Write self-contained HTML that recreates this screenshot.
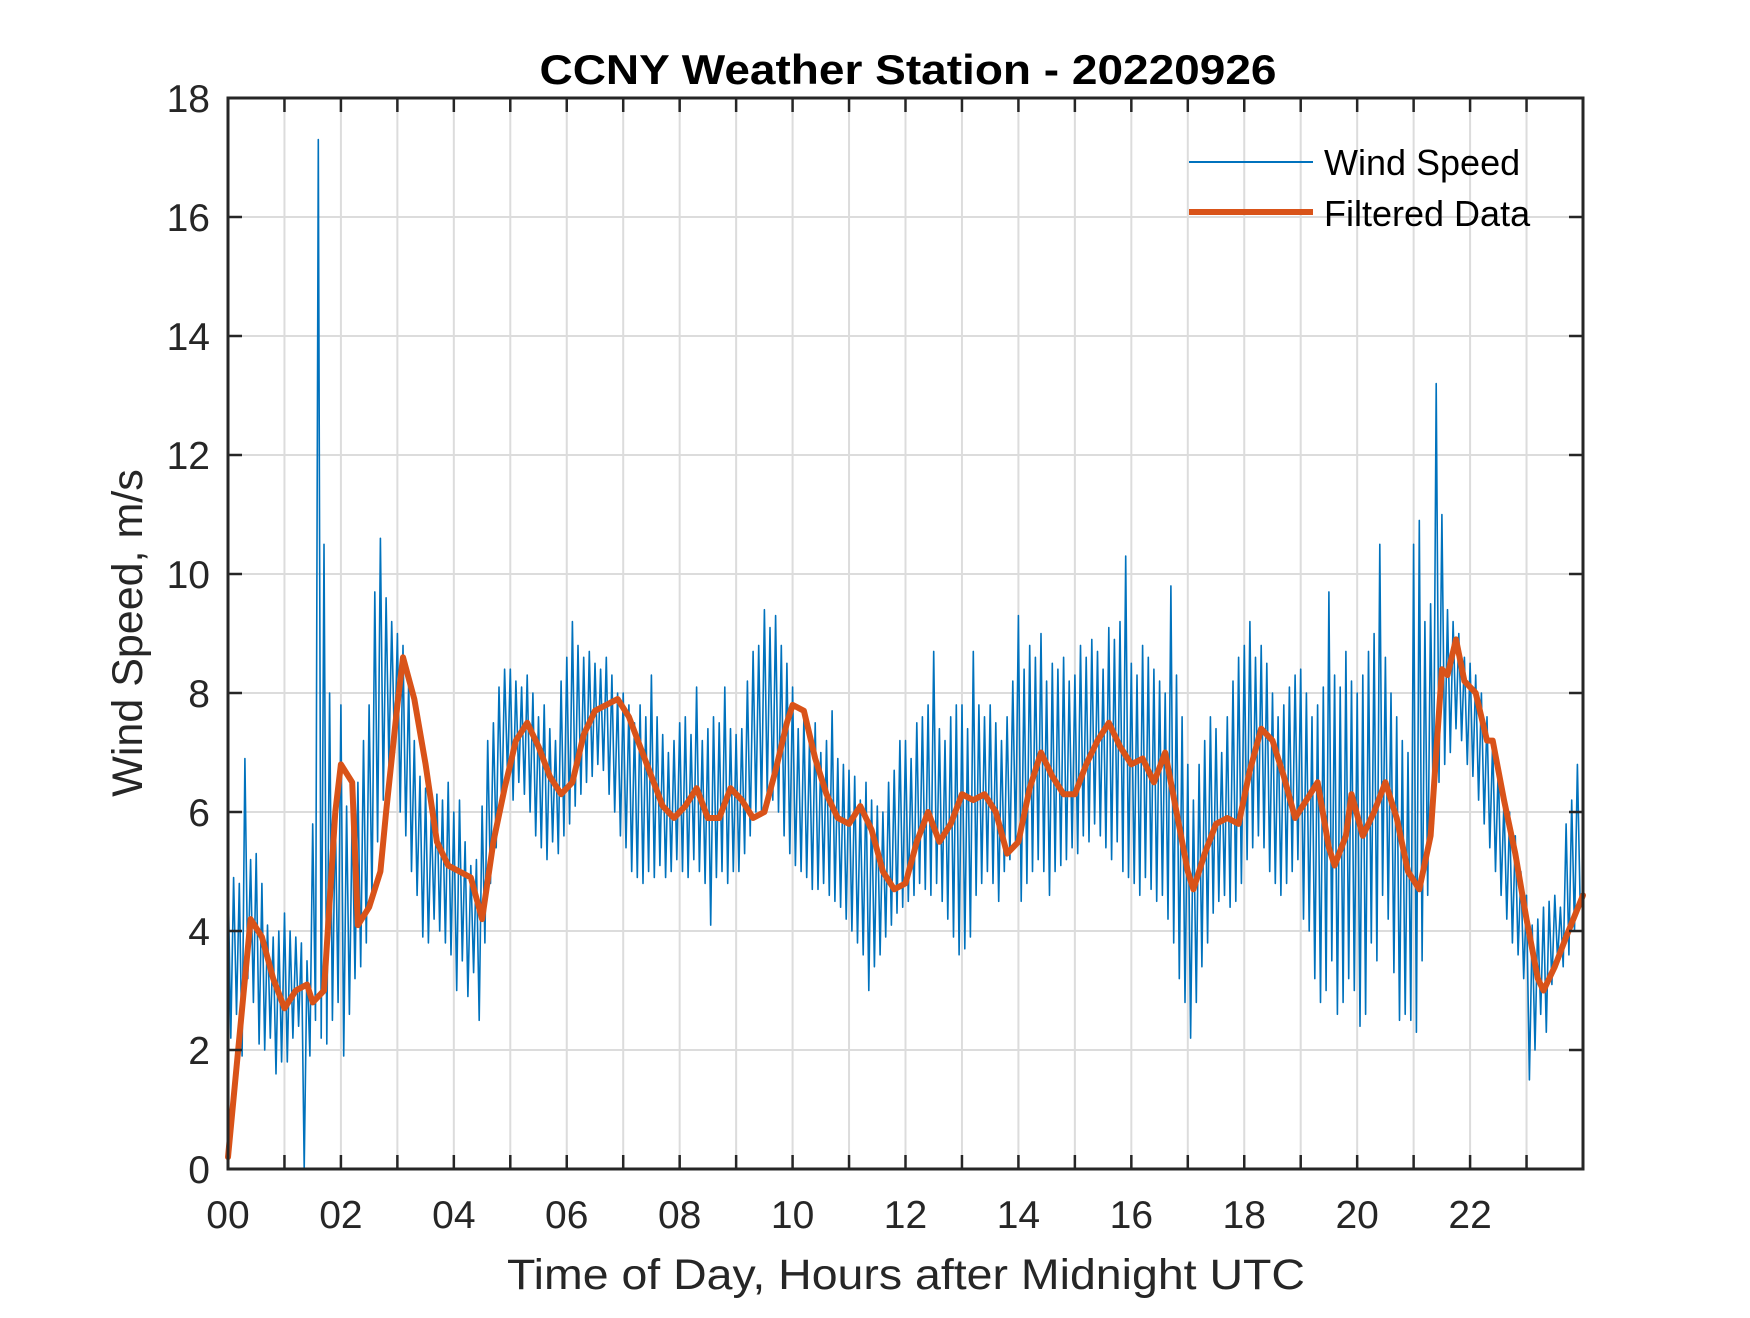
<!DOCTYPE html>
<html><head><meta charset="utf-8"><style>
html,body{margin:0;padding:0;background:#fff;}
svg text{font-family:"Liberation Sans",Arial,sans-serif;}
</style></head><body>
<svg id="chart" width="1750" height="1313" viewBox="0 0 1750 1313" xmlns="http://www.w3.org/2000/svg">
<rect x="0" y="0" width="1750" height="1313" fill="#fff"/>
<text x="908" y="84" text-anchor="middle" font-size="42" font-weight="bold" fill="#000" textLength="737" lengthAdjust="spacingAndGlyphs">CCNY Weather Station - 20220926</text>
<g id="grid"></g>
<g id="series"></g>
<g id="axes"></g>
<text x="906" y="1289" text-anchor="middle" font-size="43" fill="#262626" textLength="798" lengthAdjust="spacingAndGlyphs">Time of Day, Hours after Midnight UTC</text>
<text transform="translate(142,633) rotate(-90)" text-anchor="middle" font-size="43" fill="#262626">Wind Speed, m/s</text>
<g>
<line x1="1189" y1="162" x2="1313" y2="162" stroke="#0072BD" stroke-width="2"/>
<text x="1324" y="175" font-size="36" fill="#000">Wind Speed</text>
<line x1="1189" y1="212" x2="1313" y2="212" stroke="#D95319" stroke-width="6"/>
<text x="1324" y="226" font-size="36" fill="#000">Filtered Data</text>
</g>
</svg>
<script>
const windStep = 0.1;
const windHigh = [
5.0,4.9,4.8,6.9,5.2,5.3,4.8,4.1,3.9,4.0,
4.3,4.0,3.9,3.8,3.5,5.8,17.3,10.5,8.0,6.0,
7.8,6.1,6.0,6.5,7.2,7.8,9.7,10.6,9.6,9.2,
9.0,8.8,8.2,7.2,6.6,6.4,6.0,6.3,6.2,6.5,
6.0,6.2,5.5,5.1,5.2,6.1,7.2,7.5,8.1,8.4,
8.4,8.2,8.1,8.3,8.0,7.6,7.8,7.4,7.2,8.2,
8.6,9.2,8.8,8.6,8.7,8.5,8.4,8.6,8.3,8.0,
8.0,7.8,7.5,7.8,7.6,8.3,7.6,7.3,7.0,7.2,
7.5,7.6,7.3,8.1,7.2,7.4,7.6,7.5,8.1,7.4,
7.3,7.4,8.2,8.7,8.8,9.4,9.1,9.3,8.8,8.5,
8.1,7.4,7.6,7.2,7.5,7.0,7.2,7.7,6.9,6.8,
6.7,6.6,6.2,6.5,6.2,6.1,6.0,6.5,6.7,7.2,
7.2,6.9,7.5,7.6,7.8,8.7,7.4,7.2,7.6,7.8,
7.8,7.4,8.7,7.8,7.6,7.8,7.5,7.2,7.6,8.2,
9.3,8.4,8.8,8.6,9.0,8.2,8.5,8.4,8.6,8.2,
8.3,8.8,8.6,8.9,8.7,8.4,9.1,8.9,9.2,10.3,
8.5,8.3,8.8,8.6,8.4,8.2,8.0,9.8,8.3,7.6,
6.8,6.2,6.8,7.2,7.6,7.4,7.0,7.6,8.2,8.6,
8.8,9.2,8.6,8.8,8.5,8.0,7.6,7.8,8.1,8.3,
8.4,8.0,7.6,7.8,8.1,9.7,8.3,8.1,8.7,8.2,
8.0,8.3,8.7,9.0,10.5,8.6,8.0,7.6,7.2,7.0,
10.5,10.9,9.2,9.5,13.2,11.0,9.4,9.2,9.0,8.6,
8.5,8.3,8.0,7.6,7.2,6.8,6.2,6.0,5.6,5.0,
4.6,4.1,4.2,4.4,4.5,4.6,4.4,5.8,6.2,6.8];
const windLow = [
2.2,2.6,1.9,3.2,2.8,2.1,2.0,2.2,1.6,1.8,
1.8,2.2,2.4,0.0,1.9,2.5,2.2,2.1,2.5,2.8,
1.9,2.6,3.2,3.4,3.8,4.5,5.5,6.2,6.8,7.0,
6.0,5.6,5.0,4.6,3.9,3.8,4.2,4.0,3.8,3.6,
3.0,3.5,2.9,3.3,2.5,3.8,4.8,5.4,6.0,6.6,
6.2,6.5,6.3,6.0,5.6,5.4,5.2,5.5,5.3,5.6,
5.8,6.1,6.3,6.5,6.6,6.8,6.7,6.3,6.0,5.6,
5.4,5.0,4.9,4.8,5.0,4.9,5.1,4.9,5.0,5.2,
5.0,4.9,5.2,5.0,4.8,4.1,4.9,5.0,4.8,5.0,
5.0,5.3,5.6,6.0,6.0,6.3,6.2,6.0,5.6,5.3,
5.1,5.0,4.9,4.7,4.7,4.8,4.6,4.5,4.4,4.2,
4.0,3.8,3.6,3.0,3.4,3.6,3.9,4.1,4.3,4.4,
4.5,4.6,4.8,4.7,4.6,4.8,4.5,4.2,3.9,3.6,
3.7,3.9,4.6,4.8,5.0,4.8,4.5,5.0,5.2,5.4,
4.5,4.8,5.0,5.2,5.0,4.6,5.0,5.1,5.2,5.4,
5.3,5.6,5.5,5.8,5.6,5.4,5.2,5.5,5.0,4.9,
4.8,4.6,4.9,4.7,4.5,4.6,4.2,3.8,3.2,2.8,
2.2,2.8,3.4,3.8,4.3,4.5,4.6,4.4,4.5,4.8,
5.2,5.4,5.6,5.4,5.0,4.8,4.6,4.8,5.0,5.2,
4.2,4.0,3.2,2.8,3.0,3.5,2.6,2.8,3.2,3.0,
2.4,2.6,3.8,3.5,4.6,4.2,3.3,2.5,2.6,2.5,
2.3,3.5,4.6,5.8,6.5,6.8,7.0,7.4,7.2,6.8,
6.6,6.2,5.8,5.4,5.0,4.6,4.2,3.8,3.6,3.2,
1.5,2.0,2.6,2.3,3.1,3.5,3.4,3.6,4.0,4.4];
const filtT = [0,0.2,0.4,0.6,0.8,1.0,1.2,1.4,1.5,1.7,1.9,2.0,2.2,2.3,2.5,2.7,2.8,3.0,3.1,3.3,3.5,3.7,3.9,4.1,4.3,4.5,4.7,4.9,5.1,5.3,5.5,5.7,5.9,6.1,6.3,6.5,6.7,6.9,7.1,7.3,7.5,7.7,7.9,8.1,8.3,8.5,8.7,8.9,9.1,9.3,9.5,9.7,9.9,10.0,10.2,10.4,10.6,10.8,11.0,11.2,11.4,11.6,11.8,12.0,12.2,12.4,12.6,12.8,13.0,13.2,13.4,13.6,13.8,14.0,14.2,14.4,14.6,14.8,15.0,15.2,15.4,15.6,15.8,16.0,16.2,16.4,16.6,16.8,17.0,17.1,17.3,17.5,17.7,17.9,18.1,18.3,18.5,18.7,18.9,19.1,19.3,19.5,19.6,19.8,19.9,20.1,20.3,20.5,20.7,20.9,21.1,21.3,21.5,21.6,21.75,21.9,22.1,22.3,22.4,22.6,22.8,23.0,23.2,23.3,23.5,23.7,24.0];
const filtV = [0.2,2.2,4.2,3.9,3.2,2.7,3.0,3.1,2.8,3.0,6.0,6.8,6.5,4.1,4.4,5.0,6.0,7.8,8.6,7.9,6.8,5.5,5.1,5.0,4.9,4.2,5.5,6.4,7.2,7.5,7.1,6.6,6.3,6.5,7.3,7.7,7.8,7.9,7.6,7.1,6.6,6.1,5.9,6.1,6.4,5.9,5.9,6.4,6.2,5.9,6.0,6.7,7.5,7.8,7.7,6.9,6.3,5.9,5.8,6.1,5.7,5.0,4.7,4.8,5.5,6.0,5.5,5.8,6.3,6.2,6.3,6.0,5.3,5.5,6.4,7.0,6.6,6.3,6.3,6.8,7.2,7.5,7.1,6.8,6.9,6.5,7.0,6.0,5.0,4.7,5.3,5.8,5.9,5.8,6.7,7.4,7.2,6.6,5.9,6.2,6.5,5.4,5.1,5.6,6.3,5.6,6.0,6.5,5.9,5.0,4.7,5.6,8.4,8.3,8.9,8.2,8.0,7.2,7.2,6.2,5.3,4.2,3.2,3.0,3.4,3.9,4.6];
const xTickLabels = ["00","02","04","06","08","10","12","14","16","18","20","22"];
const yTickLabels = ["0","2","4","6","8","10","12","14","16","18"];

const L=228,R=1583,T=98,B=1169, XMAX=24, YMAX=18;
const xs = h => L + h/XMAX*(R-L);
const ys = v => B - v/YMAX*(B-T);
const NS="http://www.w3.org/2000/svg";
function mk(tag, attrs){const e=document.createElementNS(NS,tag);for(const k in attrs)e.setAttribute(k,attrs[k]);return e;}
const grid=document.getElementById('grid'), series=document.getElementById('series'), axes=document.getElementById('axes');

for(let h=1;h<=23;h++){
  const g=mk('line',{x1:xs(h),x2:xs(h),y1:T,y2:B,stroke:'#dcdcdc','stroke-width':2});
  
  
  grid.appendChild(g);
}
for(let i=1;i<yTickLabels.length-1;i++){
  const v=+yTickLabels[i];
  const g=mk('line',{x1:L,x2:R,y1:ys(v),y2:ys(v),stroke:'#dcdcdc','stroke-width':2});
  
  
  grid.appendChild(g);
}

let pts=[];
for(let i=0;i<windHigh.length;i++){
  pts.push(xs(i*windStep).toFixed(1)+','+ys(windHigh[i]).toFixed(1));
  pts.push(xs(i*windStep+windStep/2).toFixed(1)+','+ys(windLow[i]).toFixed(1));
}
const wl=mk('polyline',{points:pts.join(' '),fill:'none',stroke:'#0072BD','stroke-width':1.6,'stroke-linejoin':'round'});


series.appendChild(wl);

const n=Math.min(filtT.length,filtV.length);
const fp=filtT.slice(0,n).map((t,i)=>xs(t).toFixed(1)+','+ys(filtV[i]).toFixed(1)).join(' ');
const fl=mk('polyline',{points:fp,fill:'none',stroke:'#D95319','stroke-width':6,'stroke-linejoin':'round','stroke-linecap':'round'});


series.appendChild(fl);

const box=mk('rect',{x:L,y:T,width:R-L,height:B-T,fill:'none',stroke:'#262626','stroke-width':3});


axes.appendChild(box);
for(let h=0;h<=23;h++){
  const x=xs(h);
  const t1=mk('line',{x1:x,x2:x,y1:B,y2:B-14,stroke:'#262626','stroke-width':2.5});
  
  
  axes.appendChild(t1);
  const t2=mk('line',{x1:x,x2:x,y1:T,y2:T+14,stroke:'#262626','stroke-width':2.5});
  
  
  axes.appendChild(t2);
}
xTickLabels.forEach(s=>{
  const tx=mk('text',{x:xs(+s),y:1228,'text-anchor':'middle','font-size':39,fill:'#262626'});
  tx.textContent=s;
  
  
  axes.appendChild(tx);
});
yTickLabels.forEach(s=>{
  const y=ys(+s);
  const t1=mk('line',{x1:L,x2:L+14,y1:y,y2:y,stroke:'#262626','stroke-width':2.5});
  
  
  axes.appendChild(t1);
  const t2=mk('line',{x1:R,x2:R-14,y1:y,y2:y,stroke:'#262626','stroke-width':2.5});
  
  
  axes.appendChild(t2);
  const tx=mk('text',{x:210,y:y+14,'text-anchor':'end','font-size':39,fill:'#262626'});
  tx.textContent=s;
  
  
  axes.appendChild(tx);
});
</script>
</body></html>
